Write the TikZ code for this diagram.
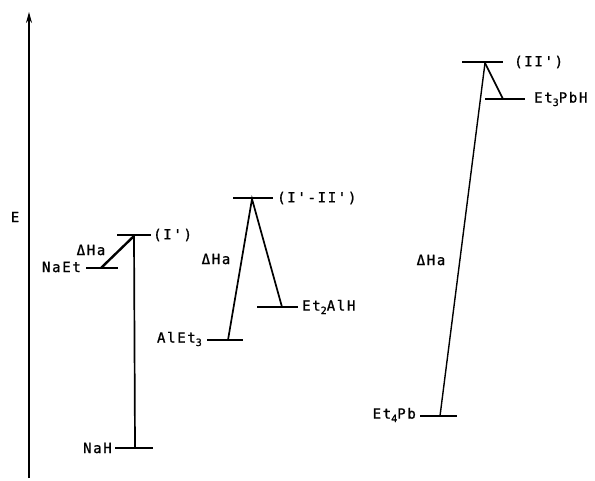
\documentclass[tikz,border=0pt]{standalone}
\usepackage{fontspec}
\usetikzlibrary{arrows.meta}
\newfontfamily\lblfont[LetterSpace=12,FakeBold=1.2]{DejaVu Sans Mono}
\newcommand{\sbs}[1]{\raisebox{-0.45ex}{\fontsize{10}{10}\selectfont #1}}
\begin{document}
\begin{tikzpicture}[x=1pt,y=1pt,
  level/.style={line width=2.4pt},
  conn/.style={line width=1.7pt},
  lbl/.style={inner sep=0pt,font=\fontsize{14}{14}\lblfont}]
\useasboundingbox (0,0) rectangle (595,480);
% axis
\coordinate (ax0) at (29,2);
\coordinate (ax1) at (29,468);
\draw[line width=1.5pt,-{Stealth[length=11pt,width=6pt]}] (ax0) -- (ax1);
\node[lbl] (E) at (15,263) {E};
% Na system
\coordinate (naet1) at (86,212); \coordinate (naet2) at (118,212);
\coordinate (i1) at (117,245); \coordinate (i2) at (151,245);
\coordinate (nah1) at (115,32); \coordinate (nah2) at (153,32);
\draw[level] (naet1) -- (naet2);
\draw[level] (i1) -- (i2);
\draw[level] (nah1) -- (nah2);
\node[lbl,anchor=east] (NaEt) at (81,213) {NaEt};
\node[lbl,anchor=west] (I) at (153,245) {(I')};
\node[lbl,anchor=east] (NaH) at (112,32) {NaH};
\coordinate (ia) at (134,244);
\coordinate (naetb) at (101,212);
\coordinate (nahb) at (135,32);
\draw[conn] (ia) -- (nahb);
\draw[line width=2.4pt] (naetb) -- (ia);
\node[lbl] (dh1) at (91,230) {ΔHa};
% Al system
\coordinate (al1) at (207,140); \coordinate (al2) at (243,140);
\coordinate (ii1) at (233,282); \coordinate (ii2) at (273,282);
\coordinate (et2al1) at (257,173); \coordinate (et2al2) at (298,173);
\draw[level] (al1) -- (al2);
\draw[level] (ii1) -- (ii2);
\draw[level] (et2al1) -- (et2al2);
\node[lbl,anchor=east] (AlEt3) at (202,141) {AlEt\sbs{3}};
\node[lbl,anchor=west] (III) at (277,282) {(I'-II')};
\node[lbl,anchor=west] (Et2AlH) at (302,173) {Et\sbs{2}AlH};
\coordinate (iia) at (252,281);
\coordinate (alb) at (228,140);
\coordinate (et2alb) at (282,173);
\draw[conn] (alb) -- (iia) -- (et2alb);
\node[lbl] (dh2) at (216,221) {ΔHa};
% Pb system
\coordinate (pb1) at (420,64); \coordinate (pb2) at (457,64);
\coordinate (iii1) at (462,418); \coordinate (iii2) at (503,418);
\coordinate (et3pb1) at (485,381); \coordinate (et3pb2) at (525,381);
\draw[level] (pb1) -- (pb2);
\draw[level] (iii1) -- (iii2);
\draw[level] (et3pb1) -- (et3pb2);
\node[lbl,anchor=east] (Et4Pb) at (416,65) {Et\sbs{4}Pb};
\node[lbl,anchor=west] (II) at (514,418) {(II')};
\node[lbl,anchor=west] (Et3PbH) at (534,381) {Et\sbs{3}PbH};
\coordinate (iiia) at (485,417);
\coordinate (pbb) at (440,64);
\coordinate (et3pbb) at (503,381);
\draw[conn,line width=1.4pt] (pbb) -- (iiia);
\draw[conn] (iiia) -- (et3pbb);
\node[lbl] (dh3) at (431,220) {ΔHa};
\end{tikzpicture}
\end{document}
